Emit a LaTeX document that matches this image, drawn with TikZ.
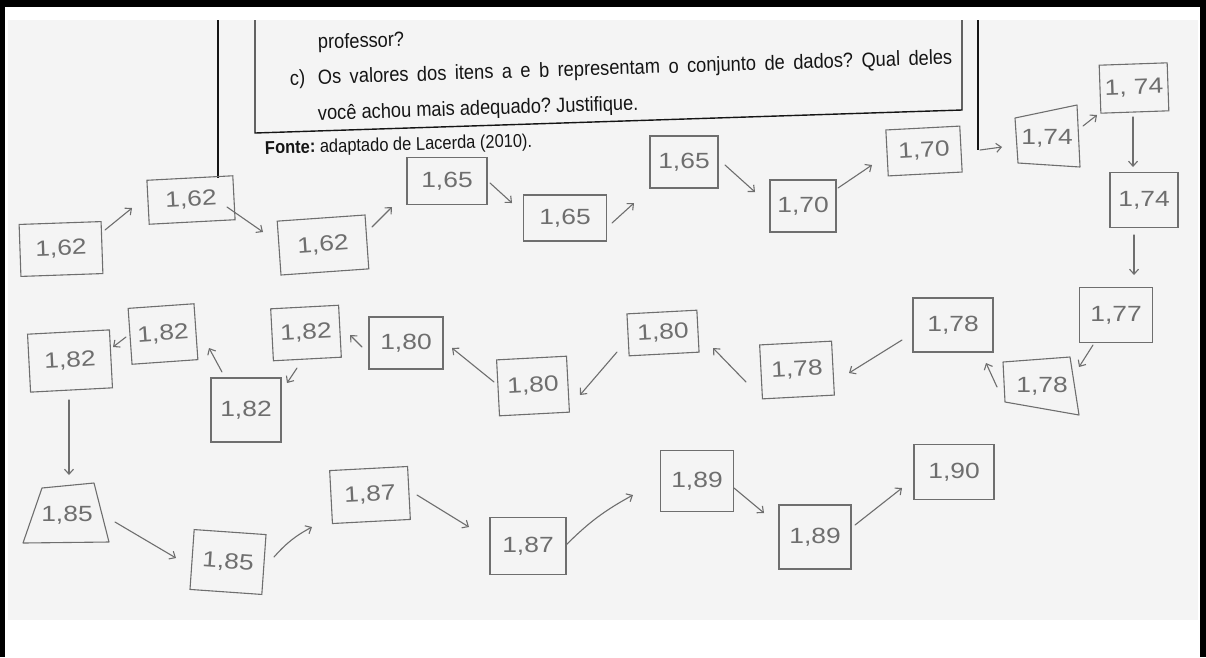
\documentclass[tikz,border=0pt]{standalone}
\usepackage{fontspec}
\setmainfont{Liberation Sans}
\usepackage{graphicx}
\usetikzlibrary{arrows.meta}
\definecolor{pencil}{HTML}{6E6E6E}
\definecolor{scanbg}{HTML}{F4F4F4}
\definecolor{ink}{HTML}{151515}
\newcommand{\hwtext}[1]{\scalebox{1.2}[1]{#1}}
\newcommand{\prtext}[1]{\scalebox{0.89}[1]{#1}}
\frenchspacing
\begin{document}
\begin{tikzpicture}[x=1pt,y=-1pt,
  hbox/.style={draw=pencil, line width=1.1pt, text=pencil, inner sep=0pt,
    font=\fontsize{22}{22}\selectfont},
  htxt/.style={text=pencil, inner sep=0pt, font=\fontsize{22}{22}\selectfont},
  outline/.style={draw=pencil, line width=1.1pt, line join=round},
  arr/.style={draw=pencil, line width=1.1pt, line cap=round,
    -{Straight Barb[length=5pt,width=9pt,line width=1.1pt]}},
  ptext/.style={text=ink, inner sep=0pt, anchor=base west},
  pline/.style={draw=ink, line width=1.4pt},
  frame/.style={fill=black}]
\useasboundingbox (0,0) rectangle (1206,657);
% scanned page
\fill[scanbg] (8,20) rectangle (1198,620);
% outer frame
\fill[frame] (0,0) rectangle (1206,7);
\fill[frame] (0,0) rectangle (5,657);
\fill[frame] (1200,0) rectangle (1206,657);
% printed lines
\draw[pline] (218,20) -- (218,178);
\draw[pline] (255,20) -- (255,133) -- (962,110) -- (962,20);
\draw[pline] (978,20) -- (978,150);
% printed text
\node[ptext, rotate=1.8] (P1) at (318,49) {\fontsize{20.5}{20.5}\selectfont\prtext{professor?}};
\node[ptext, rotate=1.8] (P2) at (290,85) {\fontsize{20.5}{20.5}\selectfont\prtext{\makebox[31.5pt][l]{c)}\makebox[713pt][s]{Os valores dos itens a e b representam o conjunto de dados? Qual deles}}};
\node[ptext, rotate=1.8] (P3) at (318,120) {\fontsize{20.5}{20.5}\selectfont\prtext{você achou mais adequado? Justifique.}};
\node[ptext, rotate=1.5] (P4) at (265,154) {\fontsize{18.5}{18.5}\selectfont\prtext{\textbf{Fonte:} adaptado de Lacerda (2010).}};
% top row
\node[hbox, minimum width=82, minimum height=52, rotate=2] (B1) at (61,249) {\hwtext{1,62}};
\node[hbox, minimum width=86, minimum height=44, rotate=3] (B2) at (191,200) {\hwtext{1,62}};
\node[hbox, minimum width=88, minimum height=54, rotate=4] (B3) at (323,245) {\hwtext{1,62}};
\node[hbox, minimum width=80, minimum height=47] (B4) at (447,181) {\hwtext{1,65}};
\node[hbox, minimum width=83, minimum height=46] (B5) at (565,218) {\hwtext{1,65}};
\node[hbox, minimum width=68, minimum height=52] (B6) at (684,162) {\hwtext{1,65}};
\node[hbox, minimum width=66, minimum height=52] (B7) at (803,206) {\hwtext{1,70}};
\node[hbox, minimum width=74, minimum height=46, rotate=3] (B8) at (924,151) {\hwtext{1,70}};
\node[htxt] (B9) at (1047,138) {\hwtext{1,74}};
\draw[outline] ([shift={(-32,-20)}]B9.center) -- ([shift={(30,-33)}]B9.center) -- ([shift={(33,29)}]B9.center) -- ([shift={(-29,25)}]B9.center) -- cycle;
\node[hbox, minimum width=68, minimum height=48, rotate=2] (B10) at (1134,88) {\hwtext{1, 74}};
\node[hbox, minimum width=68, minimum height=55] (B11) at (1144,200) {\hwtext{1,74}};
\node[hbox, minimum width=73, minimum height=55] (B12) at (1116,315) {\hwtext{1,77}};
% middle row
\node[htxt] (M10) at (1042,386) {\hwtext{1,78}};
\draw[outline] ([shift={(-39,-24)}]M10.center) -- ([shift={(28,-29)}]M10.center) -- ([shift={(37,29)}]M10.center) -- ([shift={(-37,16)}]M10.center) -- cycle;
\node[hbox, minimum width=80, minimum height=54] (M9) at (953,325) {\hwtext{1,78}};
\node[hbox, minimum width=72, minimum height=54, rotate=3] (M8) at (797,370) {\hwtext{1,78}};
\node[hbox, minimum width=70, minimum height=42, rotate=3] (M7) at (663,333) {\hwtext{1,80}};
\node[hbox, minimum width=70, minimum height=56, rotate=3] (M6) at (533,386) {\hwtext{1,80}};
\node[hbox, minimum width=74, minimum height=52] (M5) at (406,343) {\hwtext{1,80}};
\node[hbox, minimum width=68, minimum height=52, rotate=3] (M4) at (306,333) {\hwtext{1,82}};
\node[hbox, minimum width=70, minimum height=64] (M3) at (246,410) {\hwtext{1,82}};
\node[hbox, minimum width=66, minimum height=56, rotate=4] (M2) at (163,334) {\hwtext{1,82}};
\node[hbox, minimum width=82, minimum height=58, rotate=3] (M1) at (70,361) {\hwtext{1,82}};
% bottom row
\node[htxt] (L1) at (67,515) {\hwtext{1,85}};
\draw[outline] ([shift={(-25,-27)}]L1.center) -- ([shift={(27,-32)}]L1.center) -- ([shift={(42,27)}]L1.center) -- ([shift={(-44,28)}]L1.center) -- cycle;
\node[hbox, minimum width=72, minimum height=60, rotate=-4] (L2) at (228,562) {\hwtext{1,85}};
\node[hbox, minimum width=78, minimum height=53, rotate=3] (L3) at (370,495) {\hwtext{1,87}};
\node[hbox, minimum width=76, minimum height=57] (L4) at (528,546) {\hwtext{1,87}};
\node[hbox, minimum width=73, minimum height=61] (L5) at (697,481) {\hwtext{1,89}};
\node[hbox, minimum width=72, minimum height=64] (L6) at (815,537) {\hwtext{1,89}};
\node[hbox, minimum width=80, minimum height=55] (L7) at (954,472) {\hwtext{1,90}};
% connectors
\draw[arr] ([shift={(44,-19)}]B1.center) -- ([shift={(-59,8)}]B2.center);
\draw[arr] ([shift={(36,7)}]B2.center) -- ([shift={(-60,-13)}]B3.center);
\draw[arr] ([shift={(49,-18)}]B3.center) -- ([shift={(-55,26)}]B4.center);
\draw[arr] ([shift={(43,2)}]B4.center) -- ([shift={(-53,-15)}]B5.center);
\draw[arr] ([shift={(47,5)}]B5.center) -- ([shift={(-50,41)}]B6.center);
\draw[arr] ([shift={(41,3)}]B6.center) -- ([shift={(-48,-14)}]B7.center);
\draw[arr] ([shift={(35,-18)}]B7.center) -- ([shift={(-52,14)}]B8.center);
\draw[arr] ([shift={(56,-1)}]B8.center) -- ([shift={(-45,9)}]B9.center);
\draw[arr] ([shift={(36,-12)}]B9.center) -- ([shift={(-37,27)}]B10.center);
\draw[arr] ([shift={(-1,29)}]B10.center) -- ([shift={(-11,-33)}]B11.center);
\draw[arr] ([shift={(-10,35)}]B11.center) -- ([shift={(18,-40)}]B12.center);
\draw[arr] ([shift={(-23,30)}]B12.center) -- ([shift={(37,-19)}]M10.center);
\draw[arr] ([shift={(-45,1)}]M10.center) -- ([shift={(33,38)}]M9.center);
\draw[arr] ([shift={(-51,15)}]M9.center) -- ([shift={(52,3)}]M8.center);
\draw[arr] ([shift={(-51,12)}]M8.center) -- ([shift={(50,15)}]M7.center);
\draw[arr] ([shift={(-46,19)}]M7.center) -- ([shift={(47,9)}]M6.center);
\draw[arr] ([shift={(-39,-4)}]M6.center) -- ([shift={(46,5)}]M5.center);
\draw[arr] ([shift={(-44,4)}]M5.center) -- ([shift={(44,2)}]M4.center);
\draw[arr] ([shift={(-9,35)}]M4.center) -- ([shift={(41,-27)}]M3.center);
\draw[arr] ([shift={(-24,-38)}]M3.center) -- ([shift={(46,14)}]M2.center);
\draw[arr] ([shift={(-37,3)}]M2.center) -- ([shift={(43,-14)}]M1.center);
\draw[arr] ([shift={(-1,39)}]M1.center) -- ([shift={(2,-40)}]L1.center);
\draw[arr] ([shift={(48,7)}]L1.center) -- ([shift={(-52,-4)}]L2.center);
\draw[arr] ([shift={(46,-5)}]L2.center) to[bend left=10] ([shift={(-58,32)}]L3.center);
\draw[arr] ([shift={(47,0)}]L3.center) -- ([shift={(-59,-19)}]L4.center);
\draw[arr] ([shift={(38,-1)}]L4.center) to[bend left=8] ([shift={(-64,14)}]L5.center);
\draw[arr] ([shift={(37,7)}]L5.center) -- ([shift={(-51,-24)}]L6.center);
\draw[arr] ([shift={(40,-12)}]L6.center) -- ([shift={(-52,16)}]L7.center);
\end{tikzpicture}
\end{document}
